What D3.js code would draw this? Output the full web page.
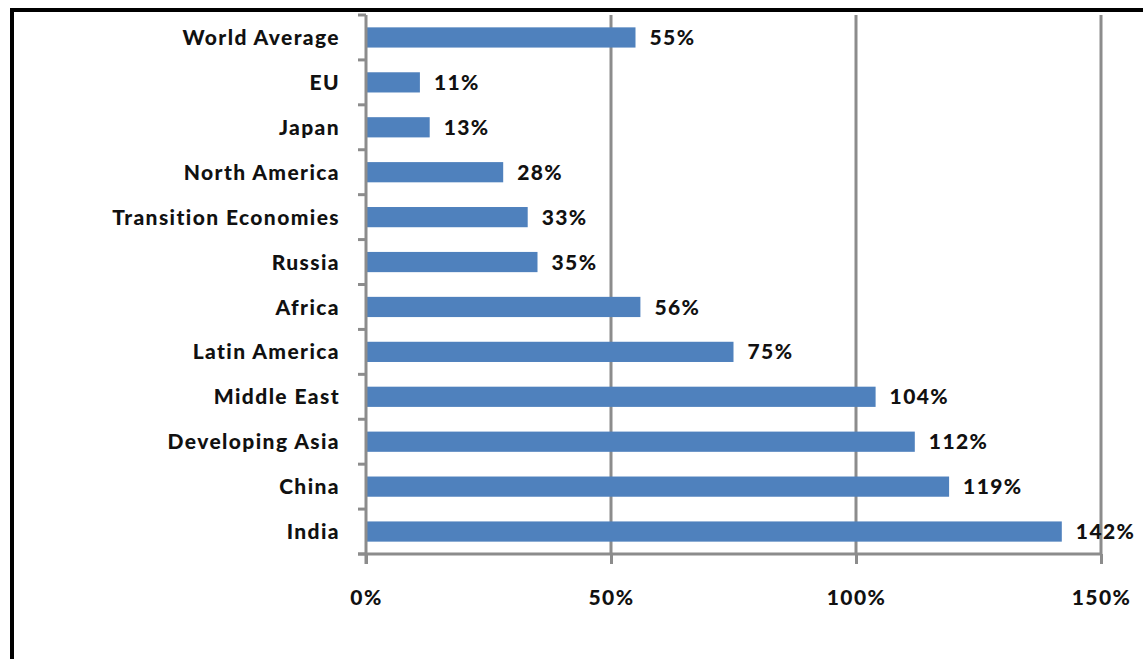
<!DOCTYPE html>
<html>
<head>
<meta charset="utf-8">
<script src="https://cdn.jsdelivr.net/npm/d3@7"></script>
<style>
  body { margin: 0; background: #fff; }
  svg text { font-family: Lato, "Open Sans", sans-serif; font-weight: 900; fill: #111; letter-spacing: 1.4px; }
</style>
</head>
<body>
<script>
// Data
var regions = ["World Average", "EU", "Japan", "North America", "Transition Economies",
  "Russia", "Africa", "Latin America", "Middle East", "Developing Asia", "China", "India"];
var shares = [55, 11, 13, 28, 33, 35, 56, 75, 104, 112, 119, 142];
var xTicks = [0, 50, 100, 150];

// Chart config
var W = 1143, H = 659;
var margin = {top: 15, right: 42, bottom: 105, left: 366};
var width = W - margin.left - margin.right,
    height = H - margin.top - margin.bottom;

var svg = d3.select("body").append("svg")
  .attr("width", W).attr("height", H);

// outer frame
svg.append("rect")
  .attr("x", 12).attr("y", 10)
  .attr("width", W + 20).attr("height", H + 20)
  .style("fill", "none").style("stroke", "#000").style("stroke-width", 4);

var g = svg.append("g").attr("transform", "translate(" + margin.left + "," + margin.top + ")");

var x = d3.scaleLinear().domain([0, 150]).range([0, 735]);
var y = d3.scaleBand().domain(regions).range([0, height]).paddingInner(0.55).paddingOuter(0.275);

// gridlines
g.selectAll(".grid").data(xTicks.slice(1)).enter().append("line")
  .attr("x1", function(d) { return x(d); }).attr("x2", function(d) { return x(d); })
  .attr("y1", 0).attr("y2", height)
  .style("stroke", "#8c8c8c").style("stroke-width", 3);

// bars
g.selectAll(".bar").data(shares).enter().append("rect")
  .attr("x", x(0))
  .attr("y", function(d, i) { return y(regions[i]); })
  .attr("width", function(d) { return x(d) - x(0); })
  .attr("height", y.bandwidth())
  .style("fill", "#4f81bd");

// value labels
g.selectAll(".val").data(shares).enter().append("text")
  .attr("x", function(d) { return x(d) + 14; })
  .attr("y", function(d, i) { return y(regions[i]) + y.bandwidth() / 2; })
  .attr("dy", "0.36em")
  .style("font-size", "21px")
  .text(function(d) { return d + "%"; });

// x axis
var xAxis = d3.axisBottom(x).tickValues(xTicks).tickFormat(function(d) { return d + "%"; })
  .tickSize(10).tickPadding(26);
var xAxisEl = g.append("g").attr("transform", "translate(0," + height + ")").call(xAxis);
xAxisEl.select(".domain").remove();
xAxisEl.append("line").attr("x1", -8).attr("x2", x(150)).attr("y1", 0).attr("y2", 0)
  .style("stroke", "#8c8c8c").style("stroke-width", 3);
xAxisEl.selectAll(".tick line").style("stroke", "#8c8c8c").style("stroke-width", 3);
xAxisEl.selectAll(".tick text").style("font-size", "21px").attr("fill", "#111");

// y axis (category boundaries as ticks)
var step = y.step();
g.selectAll(".ytick").data(d3.range(regions.length + 1)).enter().append("line")
  .attr("x1", -8).attr("x2", 0)
  .attr("y1", function(i) { return i * step; }).attr("y2", function(i) { return i * step; })
  .style("stroke", "#8c8c8c").style("stroke-width", 3);
g.append("line").attr("x1", 0).attr("x2", 0).attr("y1", 0).attr("y2", height + 10)
  .style("stroke", "#8c8c8c").style("stroke-width", 3);

g.selectAll(".cat").data(regions).enter().append("text")
  .attr("x", -26)
  .attr("y", function(d) { return y(d) + y.bandwidth() / 2; })
  .attr("dy", "0.36em")
  .attr("text-anchor", "end")
  .style("font-size", "21px")
  .text(function(d) { return d; });
</script>
</body>
</html>
